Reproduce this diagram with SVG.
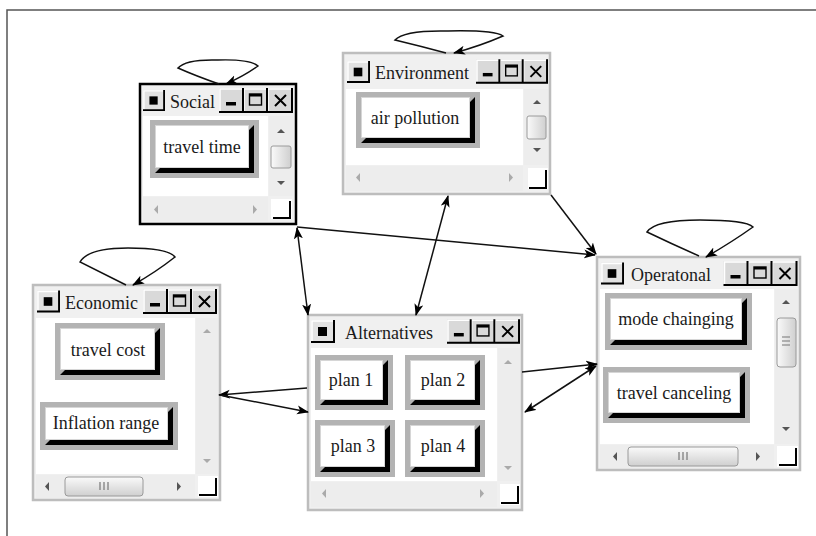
<svg xmlns="http://www.w3.org/2000/svg" xmlns:xlink="http://www.w3.org/1999/xlink" width="816" height="536" viewBox="0 0 816 536">
<style>
.win{fill:#f0f0f0;stroke:#bdbdbd;stroke-width:2.5}
.winb{fill:#f0f0f0;stroke:#000;stroke-width:2.5}
.content{fill:#fff}
.sb{fill:#ededed}
.title{font-family:"Liberation Serif","Times New Roman",serif;font-size:18px;fill:#1a1a1a}
.lbl{font-family:"Liberation Serif","Times New Roman",serif;font-size:18px;fill:#1a1a1a;text-anchor:middle}
.bframe{fill:#b3b3b3}
.bshadow{fill:#000}
.bface{fill:#fff;stroke:#d6d6d6;stroke-width:1}
.arr{fill:#555}
.arrd{fill:#aaa}
.thumb{fill:url(#tg);stroke:#9a9a9a;stroke-width:1}
.thumbh{fill:url(#tgh);stroke:#9a9a9a;stroke-width:1}
.grip{stroke:#777;stroke-width:1.2}
.corner{fill:#fff}
.cornerl{fill:none;stroke:#000;stroke-width:2}
.conn{fill:none;stroke:#111;stroke-width:1.5}
.frame{fill:none;stroke:#555;stroke-width:1.5}
</style>
<defs>
<linearGradient id="tg" x1="0" y1="0" x2="1" y2="0"><stop offset="0" stop-color="#fafafa"/><stop offset="1" stop-color="#cfcfcf"/></linearGradient>
<linearGradient id="tgh" x1="0" y1="0" x2="0" y2="1"><stop offset="0" stop-color="#fafafa"/><stop offset="1" stop-color="#cfcfcf"/></linearGradient>
<marker id="ah" viewBox="0 0 12 10" refX="11" refY="5" markerWidth="12" markerHeight="10" markerUnits="userSpaceOnUse" orient="auto-start-reverse"><path d="M0,0.5 L12,5 L0,9.5 L3,5 z" fill="#000"/></marker>
<symbol id="ctrls" viewBox="0 0 74 25">
<rect x="0" y="0" width="74" height="25" fill="#d9d9d9"/>
<path d="M1 24V1H24M25 24V1H48M49 24V1H73" fill="none" stroke="#fff" stroke-width="1.5"/>
<path d="M24 0V24H0M48 0V24H25M73 0V24H49" fill="none" stroke="#000" stroke-width="2"/>
<rect x="7" y="14" width="10" height="3.5" fill="#000"/>
<rect x="30.5" y="6" width="12" height="11" fill="none" stroke="#000" stroke-width="1.4"/>
<rect x="30.5" y="6" width="12" height="2.5" fill="#000"/>
<path d="M56 7L67 18M67 7L56 18" stroke="#000" stroke-width="2"/>
</symbol>
<symbol id="icon" viewBox="0 0 24 23">
<rect x="0" y="0" width="24" height="23" fill="#e2e2e2"/>
<path d="M1 22V1H23" fill="none" stroke="#fff" stroke-width="1.5"/>
<path d="M23 0V22H0" fill="none" stroke="#000" stroke-width="2"/>
<rect x="7" y="7" width="9" height="9" fill="#000"/>
</symbol>
</defs>
<rect x="0" y="0" width="816" height="536" fill="#fff"/>
<path class="frame" d="M7 536V10H816"/>

<g id="social">
<rect class="winb" x="140" y="84" width="156" height="140"/>
<use href="#icon" x="143" y="89" width="22" height="23"/>
<text class="title" x="170" y="108">Social</text>
<use href="#ctrls" x="219" y="88" width="74" height="25"/>
<rect class="content" x="143" y="116" width="125" height="80"/>
<rect class="sb" x="269" y="116" width="24" height="80"/>
<path class="arr" d="M277 133h8l-4-4z"/>
<rect class="thumb" x="271" y="146" width="20" height="22" rx="2"/>
<path class="arr" d="M277 181h8l-4 4z"/>
<rect class="sb" x="143" y="197" width="125" height="24"/>
<path class="arrd" d="M158 205v9l-4-4.5z"/>
<path class="arrd" d="M253 205v9l4-4.5z"/>
<rect class="corner" x="271" y="199" width="21" height="20"/>
<path class="cornerl" d="M290 201V218H273"/>
<g>
<rect class="bframe" x="150" y="120" width="109" height="58"/>
<polygon class="bshadow" points="254,125 254,173 155,173 160,168 249,168 249,130"/>
<rect class="bface" x="155.5" y="125.5" width="93" height="42"/>
<text class="lbl" x="202" y="153">travel time</text>
</g>
</g>

<g id="environment">
<rect class="win" x="343" y="53" width="207" height="141"/>
<use href="#icon" x="347" y="60" width="23" height="24"/>
<text class="title" x="375" y="79">Environment</text>
<use href="#ctrls" x="476" y="59" width="72" height="25"/>
<rect class="content" x="346" y="89" width="177" height="76"/>
<rect class="sb" x="524" y="89" width="24" height="76"/>
<path class="arr" d="M533 104h8l-4-4z"/>
<rect class="thumb" x="527" y="116" width="19" height="23" rx="2"/>
<path class="arr" d="M533 148h8l-4 4z"/>
<rect class="sb" x="346" y="166" width="177" height="25"/>
<path class="arrd" d="M360 173v9l-4-4.5z"/>
<path class="arrd" d="M509 173v9l4-4.5z"/>
<rect class="corner" x="528" y="168" width="20" height="21"/>
<path class="cornerl" d="M546 170V188H529"/>
<g>
<rect class="bframe" x="356" y="92" width="124" height="56"/>
<polygon class="bshadow" points="475,97 475,143 361,143 366,138 470,138 470,102"/>
<rect class="bface" x="361.5" y="97.5" width="108" height="40"/>
<text class="lbl" x="415" y="124">air pollution</text>
</g>
</g>

<g id="operational">
<rect class="win" x="597" y="257" width="203" height="213"/>
<use href="#icon" x="601" y="262" width="23" height="23"/>
<text class="title" x="631" y="281">Operatonal</text>
<use href="#ctrls" x="723" y="261" width="75" height="25"/>
<rect class="content" x="600" y="289" width="174" height="155"/>
<rect class="sb" x="775" y="289" width="23" height="155"/>
<path class="arr" d="M782 304h8l-4-4z"/>
<rect class="thumb" x="777" y="318" width="19" height="49" rx="3"/>
<path class="grip" d="M782 337h8M782 341h8M782 345h8"/>
<path class="arr" d="M782 427h8l-4 4z"/>
<rect class="sb" x="600" y="445" width="174" height="23"/>
<path class="arr" d="M617 452v9l-4-4.5z"/>
<rect class="thumbh" x="628" y="447" width="110" height="19" rx="3"/>
<path class="grip" d="M679 452v8M683 452v8M687 452v8"/>
<path class="arr" d="M756 452v9l4-4.5z"/>
<rect class="corner" x="777" y="446" width="21" height="21"/>
<path class="cornerl" d="M796 448V465H779"/>
<g>
<rect class="bframe" x="605" y="293" width="147" height="57"/>
<polygon class="bshadow" points="747,298 747,345 610,345 615,340 742,340 742,303"/>
<rect class="bface" x="610.5" y="298.5" width="131" height="41"/>
<text class="lbl" x="676" y="325">mode chainging</text>
</g>
<g>
<rect class="bframe" x="603" y="367" width="147" height="56"/>
<polygon class="bshadow" points="745,372 745,418 608,418 613,413 740,413 740,377"/>
<rect class="bface" x="608.5" y="372.5" width="131" height="40"/>
<text class="lbl" x="674" y="399">travel canceling</text>
</g>
</g>

<g id="economic">
<rect class="win" x="33" y="285" width="187" height="215"/>
<use href="#icon" x="37" y="290" width="23" height="23"/>
<text class="title" x="65" y="309">Economic</text>
<use href="#ctrls" x="142" y="289" width="76" height="25"/>
<rect class="content" x="36" y="318" width="159" height="156"/>
<rect class="sb" x="196" y="318" width="22" height="156"/>
<path class="arrd" d="M203 333h8l-4-4z"/>
<path class="arrd" d="M203 459h8l-4 4z"/>
<rect class="sb" x="36" y="475" width="159" height="23"/>
<path class="arr" d="M49 482v9l-4-4.5z"/>
<rect class="thumbh" x="65" y="477" width="78" height="19" rx="3"/>
<path class="grip" d="M100 482v8M104 482v8M108 482v8"/>
<path class="arr" d="M177 482v9l4-4.5z"/>
<rect class="corner" x="198" y="476" width="20" height="21"/>
<path class="cornerl" d="M216 478V495H199"/>
<g>
<rect class="bframe" x="55" y="323" width="110" height="57"/>
<polygon class="bshadow" points="160,328 160,375 60,375 65,370 155,370 155,333"/>
<rect class="bface" x="60.5" y="328.5" width="94" height="41"/>
<text class="lbl" x="108" y="356">travel cost</text>
</g>
<g>
<rect class="bframe" x="40" y="402" width="138" height="48"/>
<polygon class="bshadow" points="173,407 173,445 45,445 50,440 168,440 168,412"/>
<rect class="bface" x="45.5" y="407.5" width="122" height="32"/>
<text class="lbl" x="106" y="429">Inflation range</text>
</g>
</g>

<g id="alternatives">
<rect class="win" x="308" y="315" width="214" height="195"/>
<use href="#icon" x="311" y="320" width="24" height="23"/>
<text class="title" x="345" y="339">Alternatives</text>
<use href="#ctrls" x="447" y="319" width="73" height="25"/>
<rect class="content" x="311" y="348" width="186" height="133"/>
<rect class="sb" x="498" y="348" width="22" height="133"/>
<path class="arrd" d="M504 364h8l-4-4z"/>
<path class="arrd" d="M504 466h8l-4 4z"/>
<rect class="sb" x="311" y="482" width="186" height="25"/>
<path class="arrd" d="M326 489v9l-4-4.5z"/>
<path class="arrd" d="M480 489v9l4-4.5z"/>
<rect class="corner" x="500" y="484" width="20" height="21"/>
<path class="cornerl" d="M518 486V503H501"/>
<g>
<rect class="bframe" x="315" y="355" width="78" height="55"/>
<polygon class="bshadow" points="388,360 388,405 320,405 325,400 383,400 383,365"/>
<rect class="bface" x="320.5" y="360.5" width="62" height="39"/>
<text class="lbl" x="351" y="386">plan 1</text>
</g>
<g>
<rect class="bframe" x="405" y="355" width="80" height="55"/>
<polygon class="bshadow" points="480,360 480,405 410,405 415,400 475,400 475,365"/>
<rect class="bface" x="410.5" y="360.5" width="64" height="39"/>
<text class="lbl" x="443" y="386">plan 2</text>
</g>
<g>
<rect class="bframe" x="315" y="420" width="80" height="57"/>
<polygon class="bshadow" points="390,425 390,472 320,472 325,467 385,467 385,430"/>
<rect class="bface" x="320.5" y="425.5" width="64" height="41"/>
<text class="lbl" x="353" y="452">plan 3</text>
</g>
<g>
<rect class="bframe" x="405" y="420" width="80" height="57"/>
<polygon class="bshadow" points="480,425 480,472 410,472 415,467 475,467 475,430"/>
<rect class="bface" x="410.5" y="425.5" width="64" height="41"/>
<text class="lbl" x="443" y="452">plan 4</text>
</g>
</g>

<g id="connectors">
<path class="conn" d="M219 84Q196 76 178 68Q186 59 218 60Q250 59 258 66Q244 76 226 84" marker-end="url(#ah)"/>
<path class="conn" d="M446 53Q420 46 395 40Q404 30 448 31Q494 30 503 36Q480 46 454 53" marker-end="url(#ah)"/>
<path class="conn" d="M699 256Q672 244 647 232Q655 220 700 220Q746 220 753 227Q732 242 706 257" marker-end="url(#ah)"/>
<path class="conn" d="M126 285Q102 273 80 262Q88 248 128 248Q168 248 175 257Q156 272 133 285" marker-end="url(#ah)"/>
<path class="conn" d="M297 227L595 255" marker-end="url(#ah)"/>
<path class="conn" d="M297 228L308 315" marker-start="url(#ah)" marker-end="url(#ah)"/>
<path class="conn" d="M448 196L416 315" marker-start="url(#ah)" marker-end="url(#ah)"/>
<path class="conn" d="M551 195L596 254" marker-end="url(#ah)"/>
<path class="conn" d="M522 372L597 364" marker-end="url(#ah)"/>
<path class="conn" d="M525 412L596 366" marker-start="url(#ah)" marker-end="url(#ah)"/>
<path class="conn" d="M307 388L219 395" marker-end="url(#ah)"/>
<path class="conn" d="M220 395L308 412" marker-end="url(#ah)"/>
</g>
</svg>
